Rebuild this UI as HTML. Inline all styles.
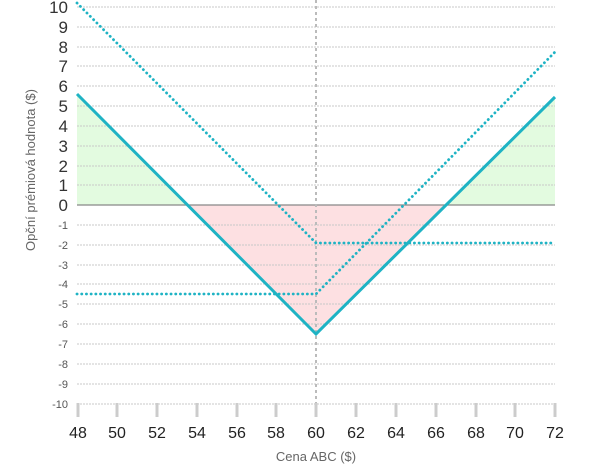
<!DOCTYPE html>
<html><head><style>body{margin:0;background:#fff}svg{display:block;font-family:"Liberation Sans",sans-serif}</style></head><body>
<svg width="611" height="475" viewBox="0 0 611 475">
<polygon points="77,94 187.5,205 77,205" fill="#e3fbe0"/>
<polygon points="446,205 555,97 555,205" fill="#e3fbe0"/>
<polygon points="187.5,205 316,334 446,205" fill="#fde0e2"/>
<g stroke="#c8c8c8" stroke-width="1" stroke-dasharray="2,1">
<line x1="77" x2="555" y1="7" y2="7"/><line x1="77" x2="555" y1="27" y2="27"/><line x1="77" x2="555" y1="47" y2="47"/><line x1="77" x2="555" y1="66" y2="66"/><line x1="77" x2="555" y1="86" y2="86"/><line x1="77" x2="555" y1="106" y2="106"/><line x1="77" x2="555" y1="126" y2="126"/><line x1="77" x2="555" y1="146" y2="146"/><line x1="77" x2="555" y1="166" y2="166"/><line x1="77" x2="555" y1="185" y2="185"/>
<line x1="77" x2="555" y1="225" y2="225"/><line x1="77" x2="555" y1="245" y2="245"/><line x1="77" x2="555" y1="265" y2="265"/><line x1="77" x2="555" y1="284" y2="284"/><line x1="77" x2="555" y1="304" y2="304"/><line x1="77" x2="555" y1="324" y2="324"/><line x1="77" x2="555" y1="344" y2="344"/><line x1="77" x2="555" y1="364" y2="364"/><line x1="77" x2="555" y1="384" y2="384"/><line x1="77" x2="555" y1="404" y2="404"/>
</g>
<line x1="77" x2="555" y1="205" y2="205" stroke="#888" stroke-width="1.2"/>
<line x1="316" x2="316" y1="0" y2="410" stroke="#bbb" stroke-width="2" stroke-dasharray="3,3"/>
<g stroke="#ccc" stroke-width="3">
<line x1="78" x2="78" y1="403" y2="417"/><line x1="117" x2="117" y1="403" y2="417"/><line x1="157" x2="157" y1="403" y2="417"/><line x1="197" x2="197" y1="403" y2="417"/><line x1="237" x2="237" y1="403" y2="417"/><line x1="276" x2="276" y1="403" y2="417"/><line x1="316" x2="316" y1="403" y2="417"/><line x1="356" x2="356" y1="403" y2="417"/><line x1="396" x2="396" y1="403" y2="417"/><line x1="436" x2="436" y1="403" y2="417"/><line x1="476" x2="476" y1="403" y2="417"/><line x1="515" x2="515" y1="403" y2="417"/><line x1="555" x2="555" y1="403" y2="417"/>
</g>
<g fill="none" stroke="#1fb3c4" stroke-width="2.8" stroke-dasharray="0.1,4.6" stroke-linecap="round">
<polyline points="77,3 316,243 555,243"/>
<polyline points="77,294 316,294 555,52"/>
</g>
<polyline points="77,94 316,334 555,97" fill="none" stroke="#1fb3c4" stroke-width="3"/>
<g font-size="17" fill="#333" text-anchor="end">
<text x="68" y="13">10</text><text x="68" y="33">9</text><text x="68" y="53">8</text><text x="68" y="72">7</text><text x="68" y="92">6</text><text x="68" y="112">5</text><text x="68" y="132">4</text><text x="68" y="152">3</text><text x="68" y="172">2</text><text x="68" y="191">1</text><text x="68" y="211">0</text>
</g>
<g font-size="11" fill="#555" text-anchor="end">
<text x="68" y="229">-1</text><text x="68" y="249">-2</text><text x="68" y="269">-3</text><text x="68" y="288">-4</text><text x="68" y="308">-5</text><text x="68" y="328">-6</text><text x="68" y="348">-7</text><text x="68" y="368">-8</text><text x="68" y="388">-9</text><text x="68" y="408">-10</text>
</g>
<g font-size="16" fill="#222" text-anchor="middle">
<text x="78" y="438">48</text><text x="117" y="438">50</text><text x="157" y="438">52</text><text x="197" y="438">54</text><text x="237" y="438">56</text><text x="276" y="438">58</text><text x="316" y="438">60</text><text x="356" y="438">62</text><text x="396" y="438">64</text><text x="436" y="438">66</text><text x="476" y="438">68</text><text x="515" y="438">70</text><text x="555" y="438">72</text>
</g>
<text x="316" y="461" font-size="13" fill="#666" text-anchor="middle">Cena ABC ($)</text>
<text transform="translate(35,170) rotate(-90)" font-size="13" fill="#666" text-anchor="middle">Opční prémiová hodnota ($)</text>
</svg>
</body></html>
